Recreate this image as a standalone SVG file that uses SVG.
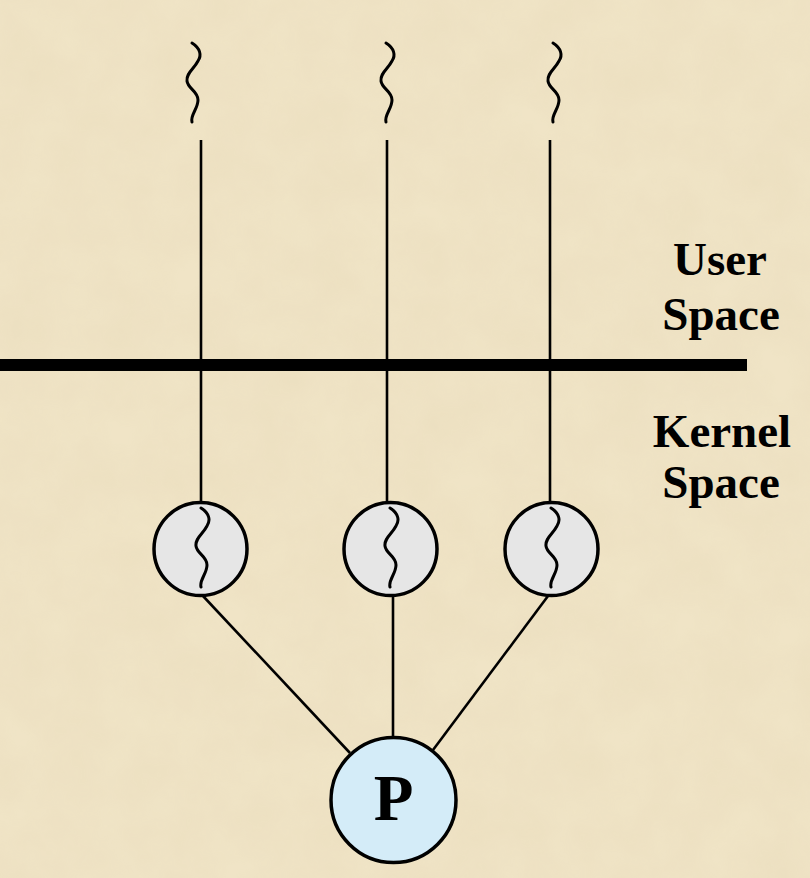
<svg xmlns="http://www.w3.org/2000/svg" width="810" height="878" viewBox="0 0 810 878">
<style>
.wire{stroke:#000;stroke-width:2.6;fill:none}
.sq{stroke:#000;stroke-width:3;fill:none;stroke-linecap:round}
.thr{fill:#e6e6e6;stroke:#000;stroke-width:3.5}
.proc{fill:#d4ecf8;stroke:#000;stroke-width:3.5}
.lbl{font-family:"Liberation Serif","Times New Roman",serif;font-weight:bold;font-size:47px;fill:#000;text-anchor:middle}
</style>
<defs>
<filter id="tex" x="0" y="0" width="100%" height="100%">
<feTurbulence type="fractalNoise" baseFrequency="0.02" numOctaves="4" seed="3"/>
<feColorMatrix type="matrix" values="0 0 0 0 0.6  0 0 0 0 0.5  0 0 0 0 0.3  0.3 0 0 0 -0.05"/>
</filter>
<path id="sq" d="M0,0 C8,5 10,12 6,18 C2,26 -6,30 -5,38 C-4,46 6,48 6,57 C6,66 -2,72 0,79"/>
</defs>
<rect width="810" height="878" fill="#f0e4c6"/>
<rect width="810" height="878" filter="url(#tex)" opacity="0.45"/>
<g id="connectors">
<line class="wire" x1="201" y1="140" x2="201" y2="502"/>
<line class="wire" x1="387" y1="140" x2="387" y2="502"/>
<line class="wire" x1="550" y1="140" x2="550" y2="502"/>
<line class="wire" x1="203" y1="596" x2="350" y2="753"/>
<line class="wire" x1="393" y1="596" x2="393" y2="737"/>
<line class="wire" x1="548" y1="596" x2="433" y2="750"/>
</g>
<g id="divider">
<rect x="0" y="359" width="747" height="12" fill="#000"/>
</g>
<g id="user-threads">
<use href="#sq" class="sq" x="192" y="43"/>
<use href="#sq" class="sq" x="386" y="43"/>
<use href="#sq" class="sq" x="553" y="43"/>
</g>
<g id="kthread1">
<circle class="thr" cx="200.5" cy="549" r="46.5"/>
<use href="#sq" class="sq" x="201" y="508"/>
</g>
<g id="kthread2">
<circle class="thr" cx="390.5" cy="549" r="46.5"/>
<use href="#sq" class="sq" x="390" y="508"/>
</g>
<g id="kthread3">
<circle class="thr" cx="551.5" cy="549" r="46.5"/>
<use href="#sq" class="sq" x="551" y="508"/>
</g>
<g id="process">
<circle class="proc" cx="393.5" cy="800" r="62.5"/>
<text class="lbl" x="393.5" y="820" style="font-size:65px">P</text>
</g>
<g id="labels">
<text class="lbl" x="720" y="275">User</text>
<text class="lbl" x="721" y="330">Space</text>
<text class="lbl" x="722" y="447">Kernel</text>
<text class="lbl" x="721" y="498">Space</text>
</g>
</svg>
